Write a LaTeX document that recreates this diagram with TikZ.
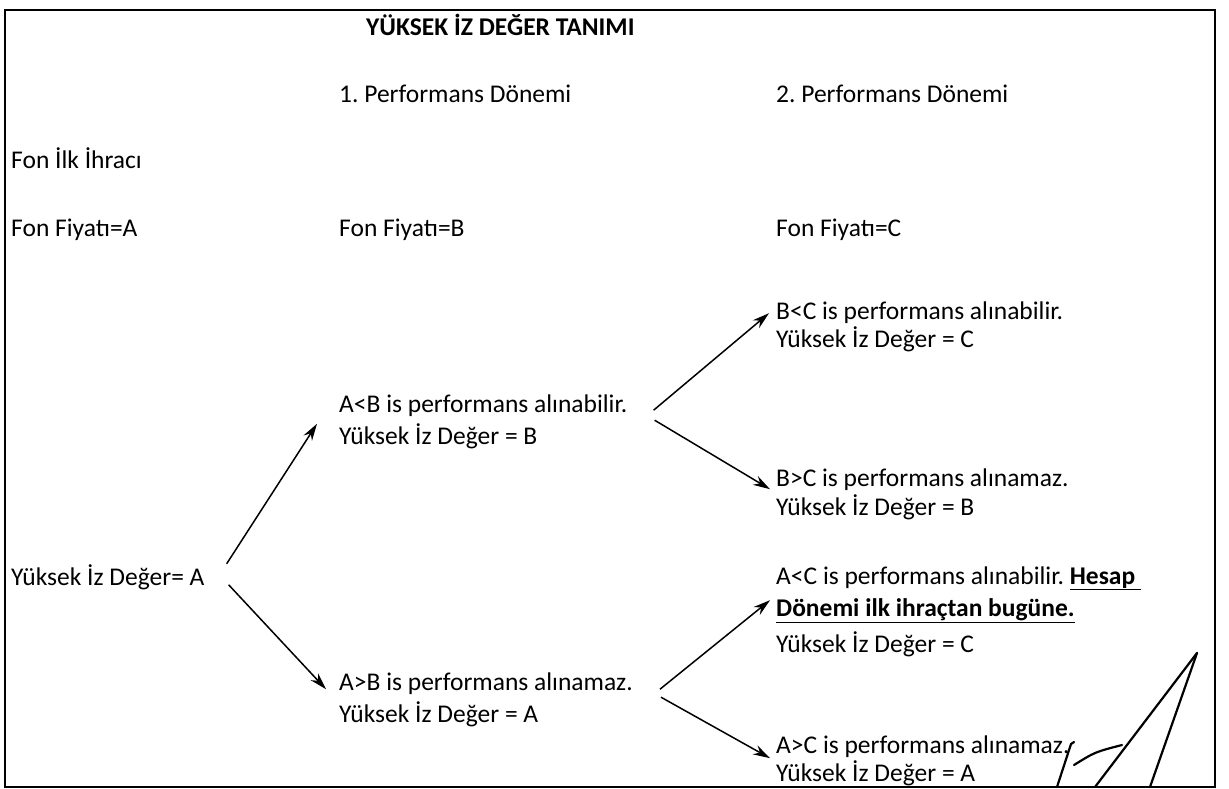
\documentclass[tikz,border=0pt]{standalone}
\usepackage{fontspec}
\setmainfont{Carlito}
\usetikzlibrary{arrows.meta}
\frenchspacing

\tikzset{
  txt/.style={anchor=base west, inner sep=0pt, font=\fontsize{25.5}{30}\selectfont},
  ttl/.style={txt, font=\fontsize{25.5}{30}\selectfont\bfseries},
  arr/.style={-{Stealth[length=17pt,width=10pt]}, line width=1.5pt},
  sig/.style={line width=2.2pt, line cap=round},
}

\begin{document}
\begin{tikzpicture}[x=1pt,y=-1pt]
\useasboundingbox (0,0) rectangle (1229,789);
\draw[line width=2.5pt] (5,10) rectangle (1215,787);
% headings
\node[ttl] (title) at (366,36) {YÜKSEK İZ DEĞER TANIMI};
\node[txt] (p1) at (339,103) {1. Performans Dönemi};
\node[txt] (p2) at (776,103) {2. Performans Dönemi};
\node[txt] (ilk) at (11,168) {Fon İlk İhracı};
\node[txt] (fa) at (11,236) {Fon Fiyatı=A};
\node[txt] (fb) at (339,236) {Fon Fiyatı=B};
\node[txt] (fc) at (776,236) {Fon Fiyatı=C};
% first period
\node[txt] (ya) at (11,585) {Yüksek İz Değer= A};
\node[txt] (ab1) at (339,412) {A<B is performans alınabilir.};
\node[txt] (ab2) at (339,444) {Yüksek İz Değer = B};
\node[txt] (abn1) at (339,690) {A>B is performans alınamaz.};
\node[txt] (abn2) at (339,722) {Yüksek İz Değer = A};
% second period
\node[txt] (bc1) at (776,319) {B<C is performans alınabilir.};
\node[txt] (bc2) at (776,347) {Yüksek İz Değer = C};
\node[txt] (bcn1) at (776,486) {B>C is performans alınamaz.};
\node[txt] (bcn2) at (776,515) {Yüksek İz Değer = B};
\node[txt] (ac1) at (776,584) {A<C is performans alınabilir. \underline{\textbf{Hesap\ }}};
\node[txt] (ac2) at (776,616) {\underline{\textbf{Dönemi ilk ihraçtan bugüne.}}};
\node[txt] (ac3) at (776,652) {Yüksek İz Değer = C};
\node[txt] (acn1) at (776,753) {A>C is performans alınamaz.};
\node[txt] (acn2) at (776,781) {Yüksek İz Değer = A};
% arrows
\draw[arr] ([shift={(22,-13)}]ya.east) -- ([shift={(-22,-12)}]ab2.west);
\draw[arr] ([shift={(24,8)}]ya.east) -- ([shift={(-13,6)}]abn1.west);
\draw[arr] ([shift={(26,5)}]ab1.east) -- ([shift={(-7,1)}]bc1.west);
\draw[arr] ([shift={(27,15)}]ab1.east) -- ([shift={(-6,10)}]bcn1.west);
\draw[arr] ([shift={(27,6)}]abn1.east) -- ([shift={(-6,-10)}]ac2.west);
\draw[arr] ([shift={(28,14)}]abn1.east) -- ([shift={(-6,12)}]acn1.west);
% signature
\draw[sig] (1057,787) -- (1071,744) -- (1074,742);
\draw[sig] (1074,765) .. controls (1095,752) .. (1122,745);
\draw[sig] (1095,787) -- (1197,653);
\draw[sig] (1150,787) -- (1197,653);
\end{tikzpicture}
\end{document}
